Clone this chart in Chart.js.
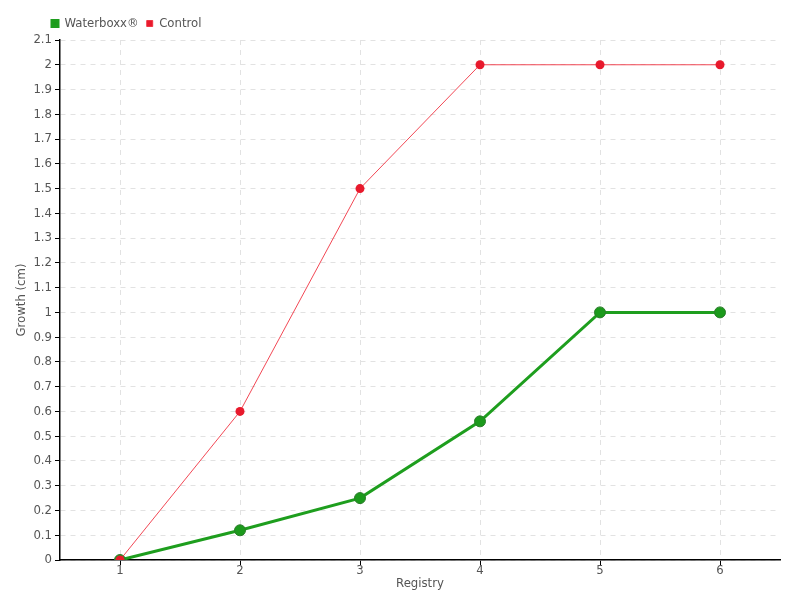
<!DOCTYPE html>
<html>
<head>
<meta charset="utf-8">
<title>Growth</title>
<script src="https://cdn.jsdelivr.net/npm/chart.js@4"></script>
<style>
  body { margin: 0; background: #fff; }
  canvas { display: block; }
</style>
</head>
<body>
<canvas id="myChart" width="800" height="600"></canvas>
<script>
// Data
const registry = [1, 2, 3, 4, 5, 6];
const waterboxx = [0, 0.12, 0.25, 0.56, 1.0, 1.0];
const control = [0, 0.6, 1.5, 2.0, 2.0, 2.0];
const yMax = 2.1;
const yStep = 0.1;

Chart.defaults.font.family = "'Liberation Sans Narrow', 'DejaVu Sans Condensed', 'DejaVu Sans', sans-serif";
Chart.defaults.font.size = 13;
Chart.defaults.color = '#555';

function points(values) {
    return registry.map((x, i) => ({ x: x, y: values[i] }));
}

const ctx = document.getElementById('myChart').getContext('2d');
const myChart = new Chart(ctx, {
    type: 'line',
    data: {
        datasets: [{
            label: 'Waterboxx®',
            data: points(waterboxx),
            borderColor: '#1e9e1e',
            backgroundColor: '#1c9a1c',
            pointBorderColor: '#2b7d2b',
            borderWidth: 3,
            pointRadius: 5.5,
            pointBorderWidth: 1,
            order: 1
        }, {
            label: 'Control',
            data: points(control),
            borderColor: 'rgba(240, 40, 55, 0.85)',
            backgroundColor: '#e8192c',
            pointBorderColor: '#e8192c',
            borderWidth: 1,
            pointRadius: 4.5,
            pointBorderWidth: 0,
            order: 0
        }]
    },
    options: {
        responsive: false,
        animation: false,
        layout: { padding: { left: 0, right: 20, top: 9, bottom: 0 } },
        plugins: {
            tooltip: { enabled: false },
            legend: {
                position: 'top',
                align: 'start',
                labels: {
                    boxWidth: 6,
                    boxHeight: 6,
                    padding: 8,
                    color: '#555',
                    sort: (a, b) => a.datasetIndex - b.datasetIndex
                }
            }
        },
        scales: {
            x: {
                type: 'linear',
                min: 0.5,
                max: 6.5,
                afterBuildTicks: axis => { axis.ticks = registry.map(v => ({ value: v })); },
                afterFit: axis => { axis.height = 40; },
                ticks: { padding: -2, color: '#555' },
                grid: { color: '#e2e2e2', tickColor: '#000', tickLength: 5, tickBorderDash: [] },
                border: { color: '#000', width: 1.5, dash: [5, 5] },
                title: { display: true, text: 'Registry', color: '#555', padding: { top: 0, bottom: 9 } }
            },
            y: {
                min: 0,
                max: yMax,
                afterFit: axis => { axis.width = 60; },
                ticks: {
                    stepSize: yStep,
                    padding: 3,
                    color: '#555',
                    callback: v => String(+v.toFixed(1))
                },
                grid: { color: '#e2e2e2', tickColor: '#000', tickLength: 5, tickBorderDash: [] },
                border: { color: '#000', width: 1.5, dash: [5, 5] },
                title: { display: true, text: 'Growth (cm)', color: '#555', padding: { top: 14, bottom: 0 } }
            }
        }
    },
    plugins: [{
        // move the legend right, like the reference
        id: 'legendShift',
        afterUpdate(chart) {
            chart.legend.left += 44;
            chart.legend.right += 44;
        }
    }]
});
</script>
</body>
</html>
